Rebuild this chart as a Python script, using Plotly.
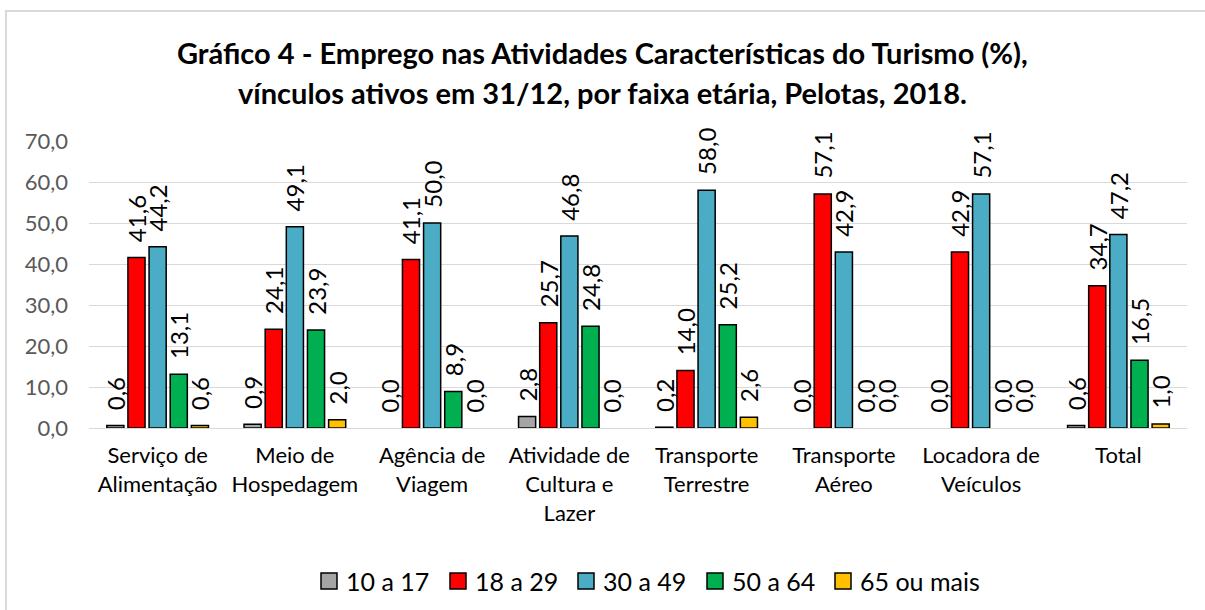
import plotly.graph_objects as go

categorias = ["Serviço de<br>Alimentação", "Meio de<br>Hospedagem", "Agência de<br>Viagem",
              "Atividade de<br>Cultura e<br>Lazer", "Transporte<br>Terrestre", "Transporte<br>Aéreo",
              "Locadora de<br>Veículos", "Total"]
faixa_10_17 = [0.6, 0.9, 0.0, 2.8, 0.2, 0.0, 0.0, 0.6]
faixa_18_29 = [41.6, 24.1, 41.1, 25.7, 14.0, 57.1, 42.9, 34.7]
faixa_30_49 = [44.2, 49.1, 50.0, 46.8, 58.0, 42.9, 57.1, 47.2]
faixa_50_64 = [13.1, 23.9, 8.9, 24.8, 25.2, 0.0, 0.0, 16.5]
faixa_65 = [0.6, 2.0, 0.0, 0.0, 2.6, 0.0, 0.0, 1.0]

series = [
    ("10 a 17", faixa_10_17, "#A5A5A5"),
    ("18 a 29", faixa_18_29, "#FF0000"),
    ("30 a 49", faixa_30_49, "#4BACC6"),
    ("50 a 64", faixa_50_64, "#00B050"),
    ("65 ou mais", faixa_65, "#FFC000"),
]

FONT = "Lato"
W, H = 1205, 610
L, R, T, B = 89, 18, 141, 182
PW, PH = W - L - R, H - T - B


def px(x):
    return (x - L) / PW


def py(y):
    return (H - B - y) / PH


fig = go.Figure()
for nome, vals, cor in series:
    fig.add_trace(go.Bar(
        x=categorias, y=vals, name=nome, showlegend=False,
        marker=dict(color=cor,
                    line=dict(color="black", width=[1.5 if v > 0 else 0 for v in vals])),
        # espaços no início afastam o rótulo do topo da barra
        text=["\u00a0\u00a0" + f"{v:.1f}".replace(".", ",") for v in vals],
        textposition="outside", textangle=-90, constraintext="none",
        textfont=dict(family=FONT, size=24, color="black"),
        cliponaxis=False, hoverinfo="skip",
    ))

fig.update_layout(
    width=W, height=H,
    margin=dict(l=L, r=R, t=T, b=B),
    paper_bgcolor="white", plot_bgcolor="white",
    separators=",.",
    barmode="group", bargap=0.23, bargroupgap=0.19,
    font=dict(family=FONT, color="#000000"),
    xaxis=dict(tickfont=dict(family=FONT, size=22, color="#000000"), automargin=False,
               showline=True, linecolor="#D9D9D9", linewidth=1, ticks="",
               ticklabelstandoff=8),
    yaxis=dict(range=[0, 70], dtick=10, tickformat=".1f", automargin=False,
               tickfont=dict(family=FONT, size=22, color="#595959"),
               showgrid=True, gridcolor="#D9D9D9", gridwidth=1,
               zeroline=False, ticks="", ticklen=0, ticklabelstandoff=20),
)

# título em duas linhas
linhas = ["Gráfico 4 - Emprego nas Atividades Características do Turismo (%),",
          "vínculos ativos em 31/12, por faixa etária, Pelotas, 2018."]
for linha, yy in zip(linhas, [52, 92]):
    fig.add_annotation(text=f"<b>{linha}</b>", xref="paper", yref="paper",
                       x=px(602), y=py(yy), xanchor="center", yanchor="middle",
                       showarrow=False, font=dict(family=FONT, size=29, color="#000000"))

# legenda desenhada à mão (quadrados grandes como no Excel)
leg_x = [321, 450, 578, 707, 835]
for (nome, vals, cor), x0 in zip(series, leg_x):
    fig.add_shape(type="rect", xref="paper", yref="paper",
                  x0=px(x0), x1=px(x0 + 16), y0=py(589), y1=py(573),
                  fillcolor=cor, line=dict(color="black", width=1.5))
    fig.add_annotation(text=nome, xref="paper", yref="paper",
                       x=px(x0 + 23), y=py(581), xanchor="left", yanchor="middle",
                       showarrow=False, font=dict(family=FONT, size=25, color="#000000"))

# contorno da área do gráfico
fig.add_shape(type="rect", xref="paper", yref="paper",
              x0=px(6), x1=px(W + 50), y0=py(H + 50), y1=py(11),
              line=dict(color="#D9D9D9", width=2), fillcolor="rgba(0,0,0,0)", layer="below")

fig.write_html("out.html", config={"displayModeBar": False},
               post_script="document.body.style.margin='0px';")
